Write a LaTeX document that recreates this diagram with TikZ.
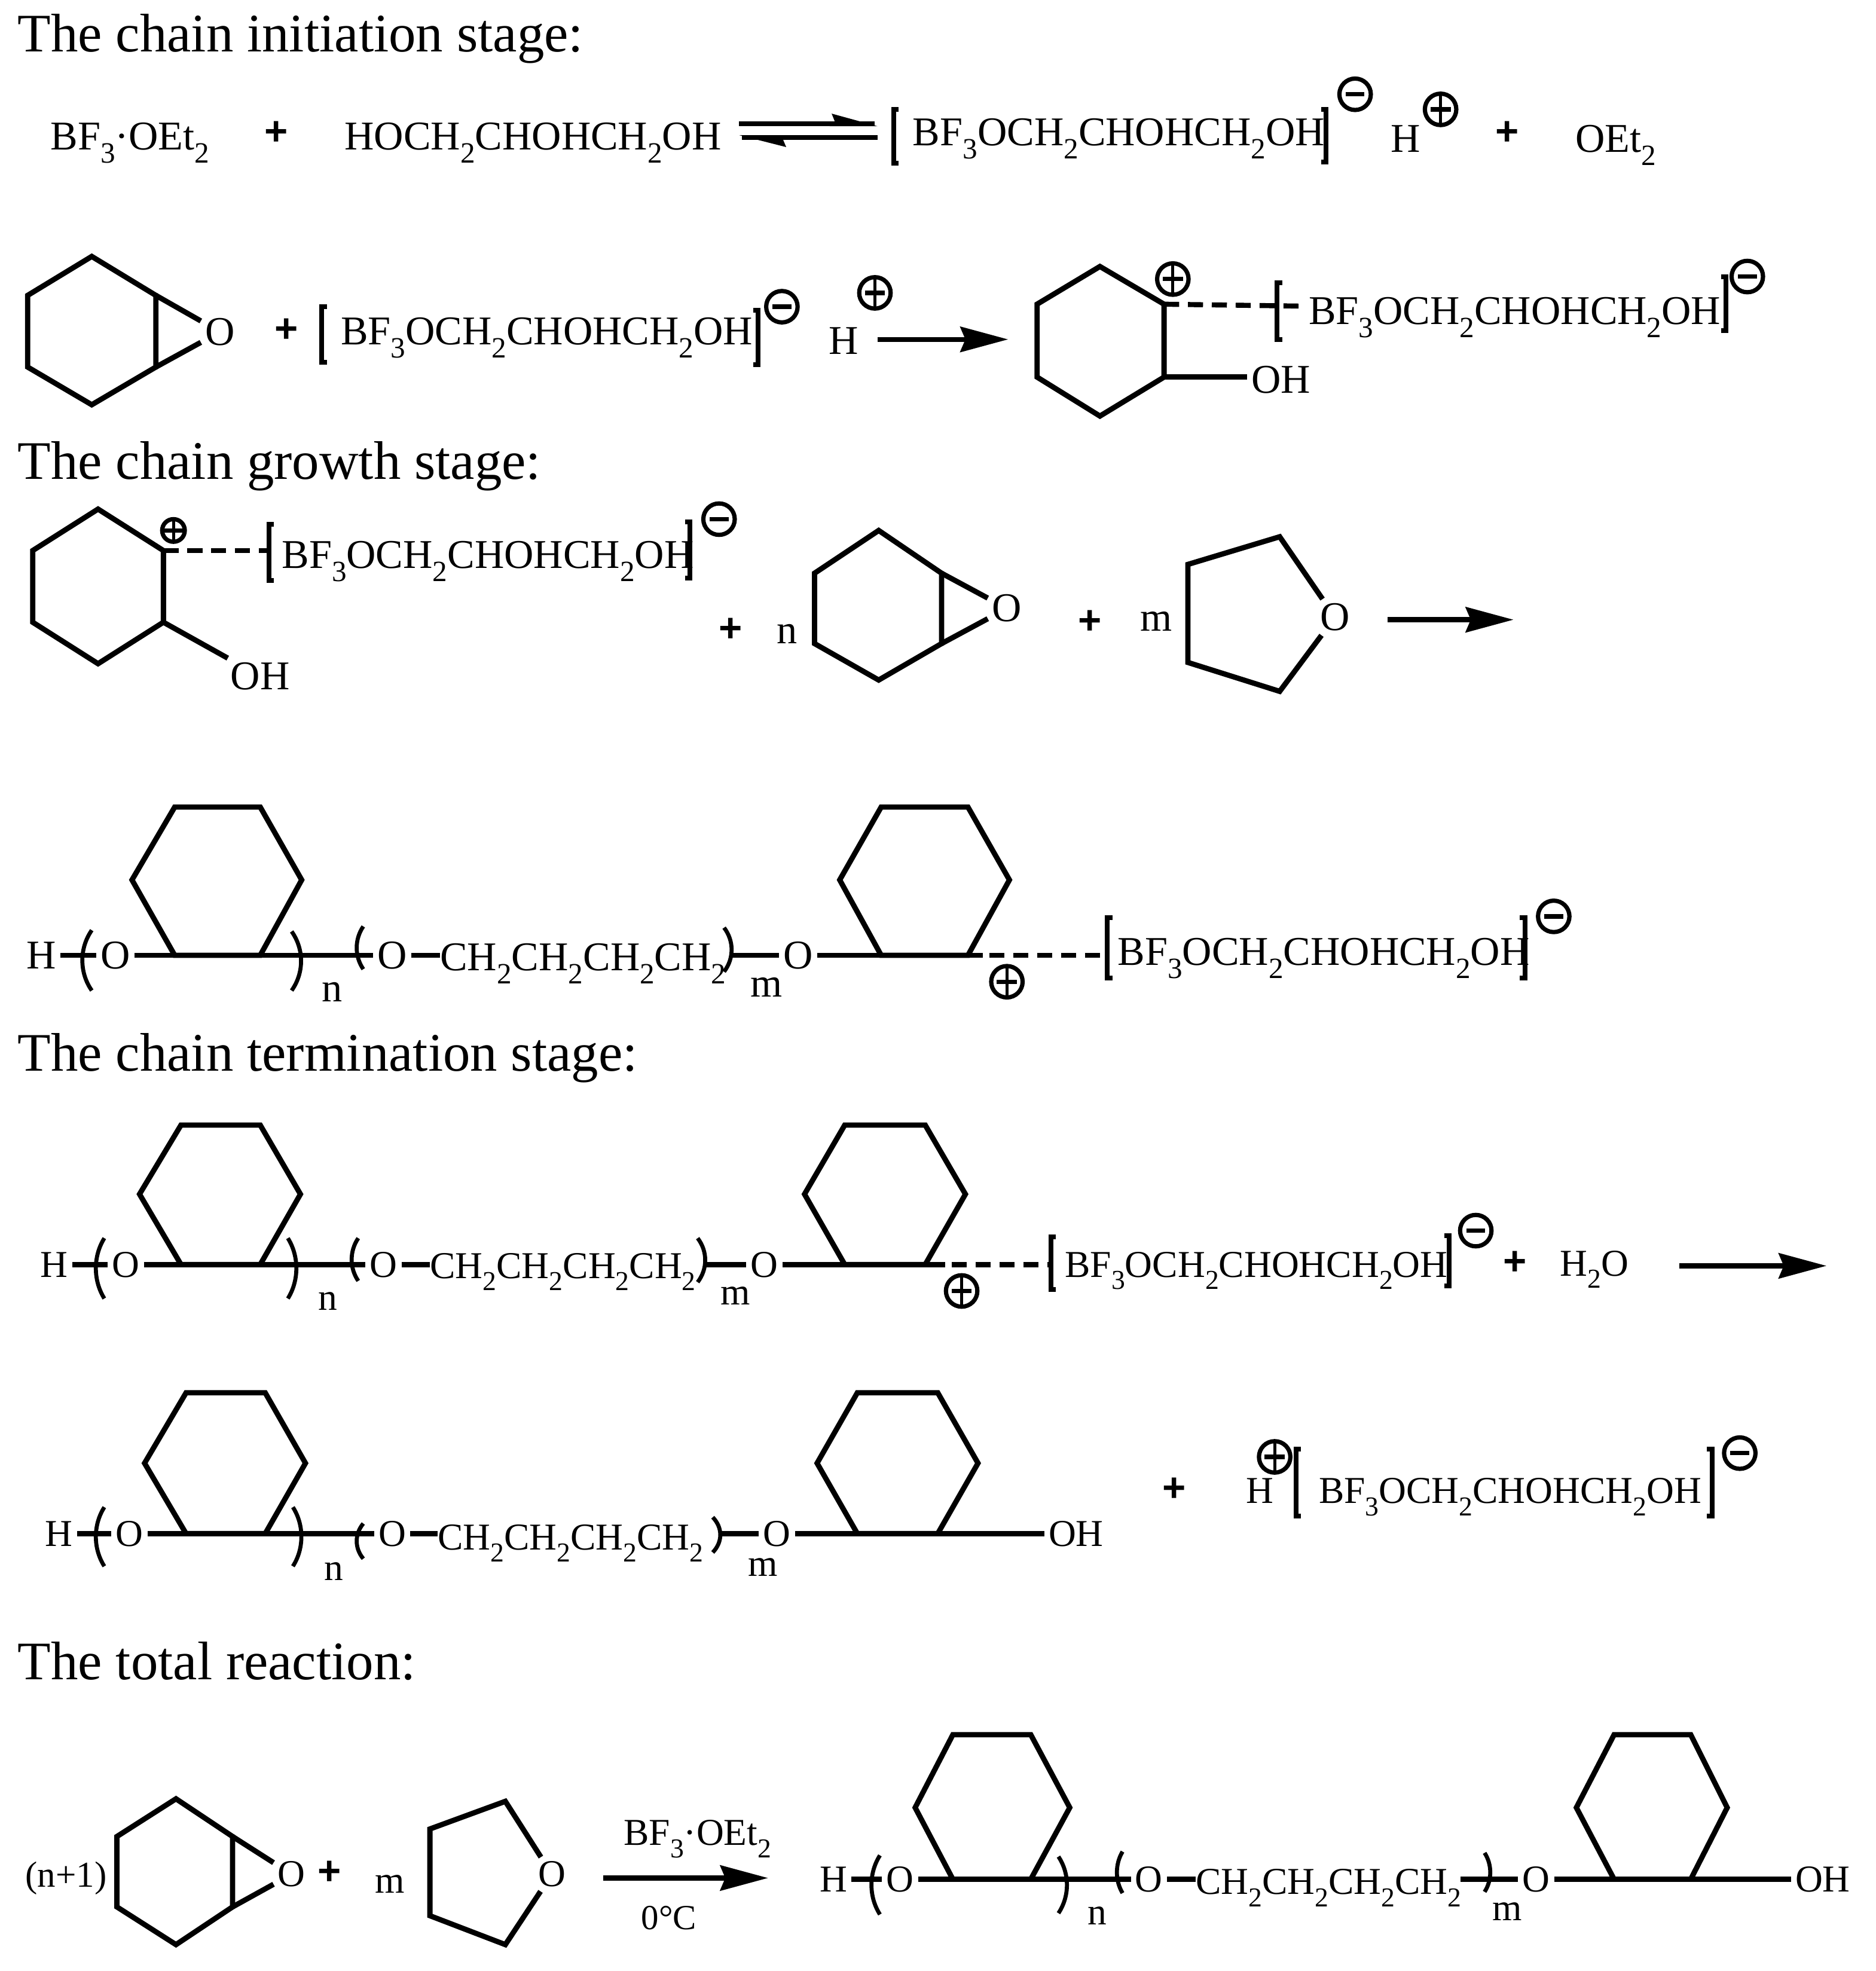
\documentclass[tikz,border=0pt]{standalone}
\usepackage{fontspec}
\setmainfont{Liberation Serif}
\newfontfamily\opfont{Liberation Sans}
\usetikzlibrary{arrows.meta}

\newcommand{\low}[1]{\raisebox{-.32em}{\scalebox{.72}{#1}}}
\newcommand{\acid}{BF\low{3}OCH\low{2}CHOHCH\low{2}OH}
\newcommand{\butyl}{CH\low{2}CH\low{2}CH\low{2}CH\low{2}}
\newcommand{\etherate}{BF\low{3}·OEt\low{2}}

\tikzset{
	bond/.style = {line width=4.2pt,line join=miter,black},
	dashbond/.style = {line width=4pt,dash pattern=on 12pt off 7pt},
	bracket/.style = {line width=3.8pt},
	paren/.style = {line width=3.2pt},
	eqline/.style = {line width=3.9pt},
	rxn/.style = {line width=4pt,-{Stealth[length=38pt,width=20pt,inset=4pt]}},
	head/.style = {anchor=base west,inner sep=0pt,font=\fontsize{43.2}{46}\selectfont},
	chem/.style = {anchor=base west,inner sep=0pt,font=\fontsize{32.5}{36}\selectfont},
	atom/.style = {inner sep=0pt,outer sep=3.5pt,font=\fontsize{32.5}{36}\selectfont},
	small/.style = {font=\fontsize{30.2}{32}\selectfont},
	plusop/.style = {inner sep=0pt,font=\fontsize{32}{32}\selectfont\opfont\bfseries},
	charge/.style = {circle,draw,line width=3.4pt,minimum size=#1,inner sep=0pt},
	charge/.default = 25pt,
	qminus/.style = {charge,path picture={
		\draw[line width=3.5pt] (path picture bounding box.center) ++(-7.5pt,0) -- ++(15pt,0);}},
	qplus/.style = {charge=#1,path picture={
		\draw[line width=3.5pt] (path picture bounding box.center) ++(-8pt,0) -- ++(16pt,0);
		\draw[line width=2.5pt] (path picture bounding box.north) -- (path picture bounding box.south);}},
	qplus/.default = 25pt,
}

\newcommand{\hexflat}[8]{
	\coordinate (#1a) at (#3,#8);
	\coordinate (#1b) at (#4,#8);
	\coordinate (#1c) at (#5,#7);
	\coordinate (#1d) at (#4,#6);
	\coordinate (#1e) at (#3,#6);
	\coordinate (#1f) at (#2,#7);
	\draw[bond] (#1a) -- (#1b) -- (#1c) -- (#1d) -- (#1e) -- (#1f) -- cycle;
}
\newcommand{\hexup}[8]{
	\coordinate (#1a) at (#3,#5);
	\coordinate (#1b) at (#4,#6);
	\coordinate (#1c) at (#4,#7);
	\coordinate (#1d) at (#3,#8);
	\coordinate (#1e) at (#2,#7);
	\coordinate (#1f) at (#2,#6);
	\draw[bond] (#1a) -- (#1b) -- (#1c) -- (#1d) -- (#1e) -- (#1f) -- cycle;
}
\newcommand{\brackL}[3]{\draw[bracket] (#1+4,#2) -- (#1,#2) -- (#1,#3) -- (#1+4,#3);}
\newcommand{\brackR}[3]{\draw[bracket] (#1-4,#2) -- (#1,#2) -- (#1,#3) -- (#1-4,#3);}
\newcommand{\bow}[4]{\draw[paren] (#1,#2) .. controls (#3,{#2+(#4-#2)*.3}) and (#3,{#2+(#4-#2)*.7}) .. (#1,#4);}

\begin{document}
\begin{tikzpicture}[x=1pt,y=-1pt]
	\useasboundingbox (0,0) rectangle (1492,1568);
	
	% initiation
	\node[head] (headInit) at (14,41) {The chain initiation stage:};
	\node[chem] (etherA) at (40,119) {\etherate};
	\node[plusop] (plusA) at (220,106) {+};
	\node[chem] (glycerol) at (274,119) {HOCH\low{2}CHOHCH\low{2}OH};
	\coordinate (eqL) at (588,98.4);
	\coordinate (eqR) at (696,98.4);
	\coordinate (eqLb) at (590,109.4);
	\coordinate (eqRb) at (698,109.4);
	\draw[eqline] (eqL) -- (eqR);
	\draw[eqline] (eqLb) -- (eqRb);
	\fill (661.6,90.4) -- (698,100.4) -- (660,100.4) -- (664,96.4) -- cycle;
	\fill (588,107.5) -- (625,107.5) -- (623,111.3) -- (625.4,117) -- cycle;
	\brackL{711}{87}{130}
	\node[chem] (acidA) at (726,116) {\acid};
	\brackR{1055}{87}{129}
	\node[qminus] (minusA) at (1078,75) {};
	\node[chem] (protA) at (1106,121) {H};
	\node[qplus] (chargeA) at (1146,87) {};
	\node[plusop] (plusB) at (1199,106) {+};
	\node[chem] (etherB) at (1253,121) {OEt\low{2}};
	
	\hexup{ra}{22}{73}{124}{204}{235}{292}{322}
	\node[atom] (oa) at (175,264) {O};
	\draw[bond] (rab) -- (oa);
	\draw[bond] (rac) -- (oa);
	\node[plusop] (plusC) at (228,263) {+};
	\brackL{256}{244}{288}
	\node[chem] (acidB) at (271,274) {\acid};
	\brackR{603}{247}{290}
	\node[qminus] (minusB) at (622,244) {};
	\node[chem] (protB) at (659,282) {H};
	\node[qplus] (chargeB) at (696,233) {};
	\coordinate (arrAs) at (698,270);
	\coordinate (arrAe) at (802,270);
	\draw[rxn] (arrAs) -- (arrAe);
	\hexup{rb}{825}{875}{926}{212}{242}{300}{331}
	\node[qplus] (chargeC) at (933,222) {};
	\node[chem] (acidC) at (1041,258) {\acid};
	\coordinate (dashA) at (1034,243.5);
	\draw[dashbond] (rbb) -- (dashA);
	\brackL{1016}{225}{270}
	\brackR{1373}{220}{263}
	\node[qminus] (minusC) at (1390,220) {};
	\node[atom] (oha) at (1019,302) {OH};
	\draw[bond] (rbc) -- (rbc -| oha.west);
	
	% growth
	\node[head] (headGrow) at (14,381) {The chain growth stage:};
	\hexup{rc}{26}{78}{130}{405}{438}{495}{528}
	\node[qplus=18pt] (chargeD) at (138,422) {};
	\coordinate (dashB) at (214,438);
	\draw[dashbond] (rcb) -- (dashB);
	\brackL{214}{417}{462}
	\node[chem] (acidD) at (224,452) {\acid};
	\brackR{549}{415}{460}
	\node[qminus] (minusD) at (572,413) {};
	\node[atom] (ohb) at (207,538) {OH};
	\draw[bond] (rcc) -- (ohb);
	\node[plusop] (plusD) at (581,501) {+};
	\node[chem] (nA) at (618,512) {n};
	\hexup{rd}{648}{699}{749}{422}{456}{512}{541}
	\node[atom] (ob) at (801,484) {O};
	\draw[bond] (rdb) -- (ob);
	\draw[bond] (rdc) -- (ob);
	\node[plusop] (plusE) at (867,495) {+};
	\node[chem] (mA) at (907,502) {m};
	\node[atom] (oc) at (1062,491) {O};
	\coordinate (tha) at (945,449);
	\coordinate (thb) at (1018,427);
	\coordinate (thc) at (945,527);
	\coordinate (thd) at (1018,550);
	\draw[bond] (oc) -- (thb) -- (tha) -- (thc) -- (thd) -- (oc);
	\coordinate (arrBs) at (1104,493);
	\coordinate (arrBe) at (1204,493);
	\draw[rxn] (arrBs) -- (arrBe);
	
	% growing chain
	\node[atom] (ha) at (33,760) {H};
	\node[atom] (od) at (92,760) {O};
	\draw[bond] (ha) -- (od);
	\bow{73}{740}{63}{788}
	\hexflat{re}{105}{139}{207}{240}{642}{700}{760}
	\node[atom] (oe) at (312,760) {O};
	\draw[bond] (od) -- (oe);
	\bow{232}{741}{242}{788}
	\node[chem] (nB) at (256,797) {n};
	\bow{289}{737}{282}{771}
	\node[chem] (chA) at (350,772) {\butyl};
	\draw[bond] (oe) -- (oe -| chA.west);
	\bow{576}{738}{584}{773}
	\node[atom] (of) at (635,760) {O};
	\draw[bond] (of) -- (582,760);
	\node[chem] (mB) at (597,793) {m};
	\hexflat{rf}{668}{701}{770}{803}{642}{700}{760}
	\coordinate (solidA) at (782,760);
	\coordinate (dashCs) at (787,760);
	\coordinate (dashC) at (880,760);
	\draw[bond] (of) -- (solidA);
	\draw[dashbond] (dashCs) -- (dashC);
	\node[qplus] (chargeE) at (801,781) {};
	\brackL{881}{730}{778}
	\node[chem] (acidE) at (889,768) {\acid};
	\brackR{1213}{730}{778}
	\node[qminus] (minusE) at (1236,729) {};
	
	% termination
	\node[head] (headTerm) at (14,852) {The chain termination stage:};
	\node[atom,small] (hb) at (43,1006) {H};
	\node[atom,small] (og) at (100,1006) {O};
	\draw[bond] (hb) -- (og);
	\bow{83}{985}{74}{1033}
	\hexflat{rg}{111}{144}{207}{239}{895}{950}{1006}
	\node[atom,small] (oh) at (305,1006) {O};
	\draw[bond] (og) -- (oh);
	\bow{229}{985}{238}{1033}
	\node[chem,small] (nC) at (253,1042) {n};
	\bow{285}{985}{278}{1019}
	\node[chem,small] (chB) at (342,1017) {\butyl};
	\draw[bond] (oh) -- (oh -| chB.west);
	\bow{555}{985}{563}{1020}
	\node[atom,small] (oi) at (608,1006) {O};
	\draw[bond] (oi) -- (562,1006);
	\node[chem,small] (mC) at (573,1038) {m};
	\hexflat{rh}{640}{672}{736}{768}{895}{950}{1006}
	\coordinate (solidB) at (752,1006);
	\coordinate (dashDs) at (757,1006);
	\coordinate (dashD) at (836,1006);
	\draw[bond] (oi) -- (solidB);
	\draw[dashbond] (dashDs) -- (dashD);
	\node[qplus] (chargeF) at (765,1027) {};
	\brackL{836}{984}{1026}
	\node[chem,small] (acidF) at (847,1016) {\acid};
	\brackR{1153}{983}{1023}
	\node[qminus] (minusF) at (1174,979) {};
	\node[plusop] (plusF) at (1205,1005) {+};
	\node[chem,small] (water) at (1241,1015) {H\low{2}O};
	\coordinate (arrCs) at (1336,1007);
	\coordinate (arrCe) at (1453,1007);
	\draw[rxn] (arrCs) -- (arrCe);
	
	\node[atom,small] (hc) at (47,1220) {H};
	\node[atom,small] (oj) at (103,1220) {O};
	\draw[bond] (hc) -- (oj);
	\bow{83}{1199}{74}{1246}
	\hexflat{ri}{115}{148}{211}{243}{1108}{1164}{1220}
	\node[atom,small] (ok) at (312,1220) {O};
	\draw[bond] (oj) -- (ok);
	\bow{233}{1199}{242}{1246}
	\node[chem,small] (nD) at (258,1257) {n};
	\bow{289}{1212}{282}{1240}
	\node[chem,small] (chC) at (348,1233) {\butyl};
	\draw[bond] (ok) -- (ok -| chC.west);
	\bow{567}{1207}{575}{1235}
	\node[atom,small] (ol) at (618,1220) {O};
	\draw[bond] (ol) -- (573,1220);
	\node[chem,small] (mD) at (595,1254) {m};
	\hexflat{rj}{650}{682}{746}{778}{1108}{1164}{1220}
	\node[atom,small] (ohc) at (856,1220) {OH};
	\draw[bond] (ol) -- (ohc);
	\node[plusop] (plusG) at (934,1185) {+};
	\node[chem,small] (protC) at (991,1196) {H};
	\node[qplus] (chargeG) at (1014,1159) {};
	\brackL{1031}{1153}{1206}
	\node[chem,small] (acidG) at (1049,1196) {\acid};
	\brackR{1362}{1153}{1206}
	\node[qminus] (minusG) at (1384,1156) {};
	
	% total
	\node[head] (headTotal) at (14,1336) {The total reaction:};
	\node[chem,font=\fontsize{29}{30}\selectfont] (feed) at (20,1501) {(n+1)};
	\hexup{rk}{93}{140}{185}{1431}{1461}{1517}{1547}
	\node[atom,small] (om) at (232,1491) {O};
	\draw[bond] (rkb) -- (om);
	\draw[bond] (rkc) -- (om);
	\node[plusop] (plusH) at (262,1490) {+};
	\node[chem,small] (mE) at (298,1506) {m};
	\node[atom,small] (on) at (439,1491) {O};
	\coordinate (tia) at (342,1455);
	\coordinate (tib) at (402,1433);
	\coordinate (tic) at (342,1524);
	\coordinate (tid) at (402,1547);
	\draw[bond] (on) -- (tib) -- (tia) -- (tic) -- (tid) -- (on);
	\node[chem,small] (etherC) at (496,1468) {\etherate};
	\node[chem,font=\fontsize{28}{30}\selectfont] (temp) at (510,1535) {0°C};
	\coordinate (arrDs) at (480,1494);
	\coordinate (arrDe) at (611,1494);
	\draw[rxn] (arrDs) -- (arrDe);
	\node[atom,small] (hd) at (663,1495) {H};
	\node[atom,small] (oo) at (716,1495) {O};
	\draw[bond] (hd) -- (oo);
	\bow{700}{1476}{691}{1523}
	\hexflat{rl}{728}{758}{820}{851}{1380}{1438}{1495}
	\node[atom,small] (op) at (914,1495) {O};
	\draw[bond] (oo) -- (op);
	\bow{842}{1477}{851}{1522}
	\node[chem,small] (nE) at (865,1531) {n};
	\bow{893}{1473}{887}{1506}
	\node[chem,small] (chD) at (951,1507) {\butyl};
	\draw[bond] (op) -- (op -| chD.west);
	\bow{1181}{1474}{1187}{1505}
	\node[atom,small] (oq) at (1222,1495) {O};
	\draw[bond] (oq) -- (1162,1495);
	\node[chem,small] (mF) at (1187,1528) {m};
	\hexflat{rm}{1254}{1284}{1345}{1374}{1380}{1438}{1495}
	\node[atom,small] (ohd) at (1450,1495) {OH};
	\draw[bond] (oq) -- (ohd);
\end{tikzpicture}
\end{document}
